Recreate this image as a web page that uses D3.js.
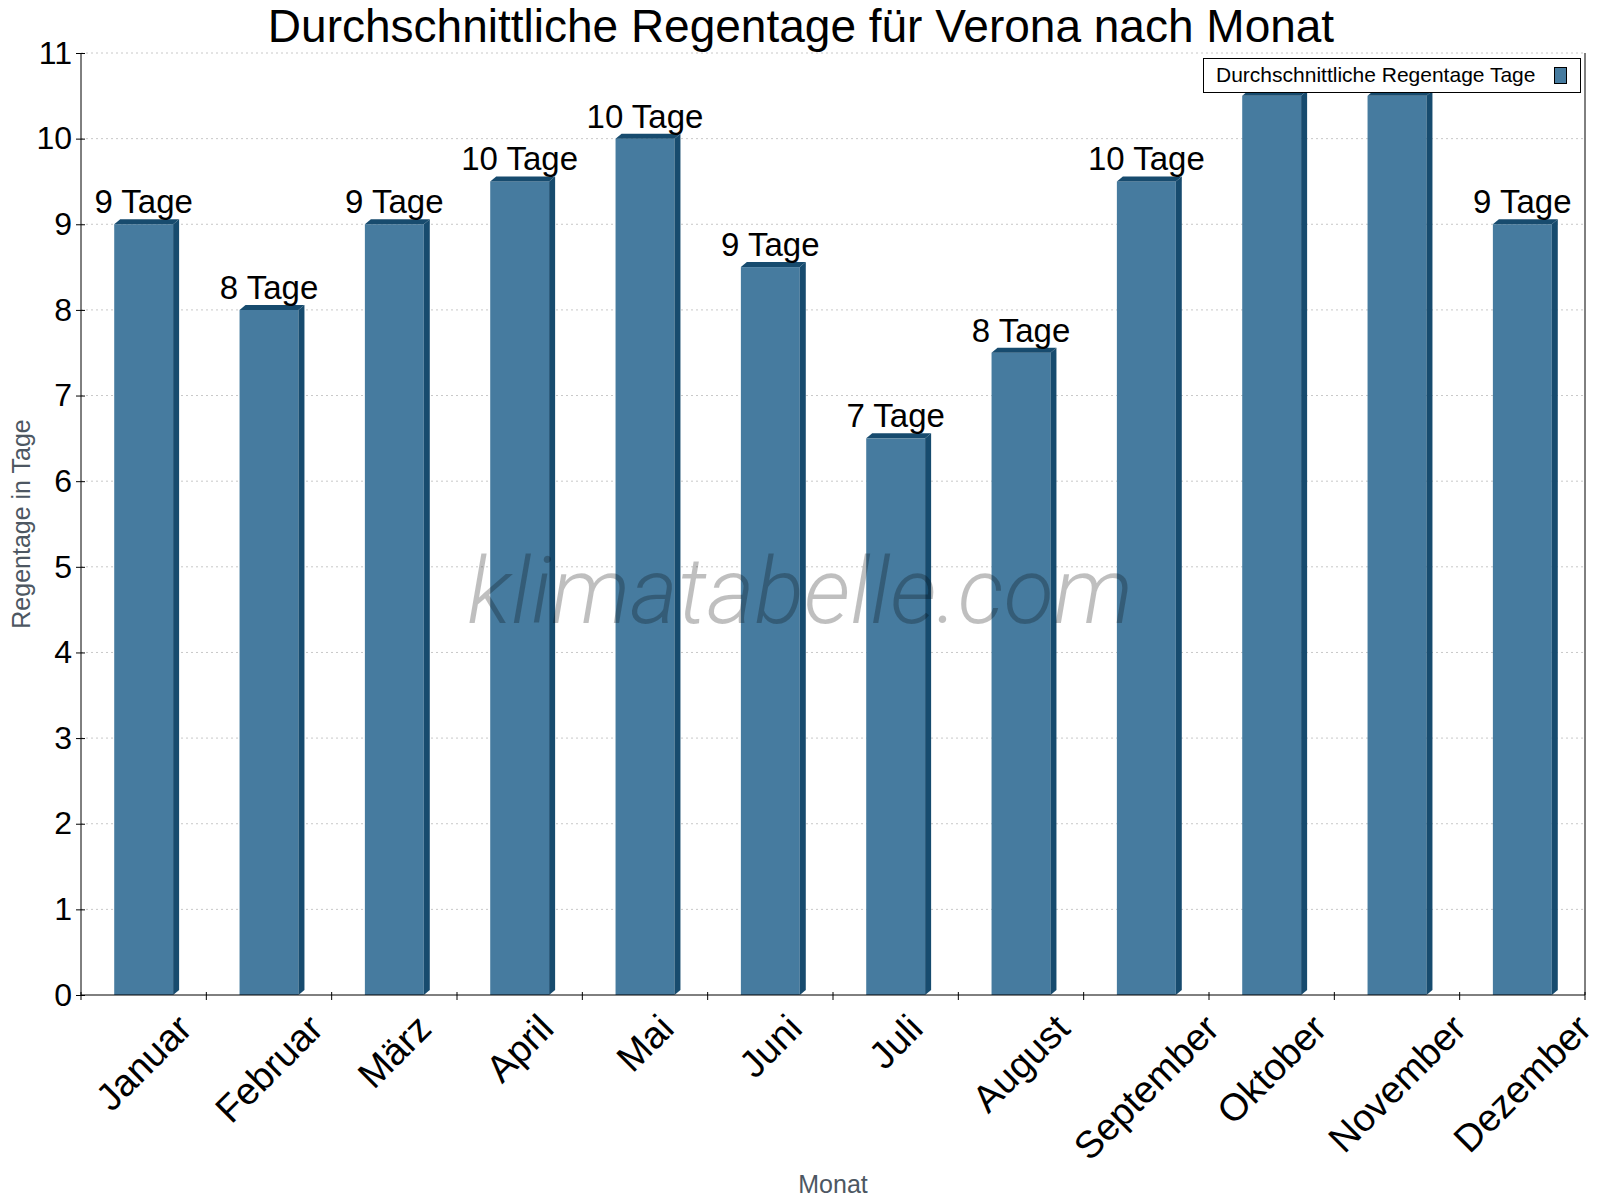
<!DOCTYPE html>
<html>
<head>
<meta charset="utf-8">
<script src="https://cdn.jsdelivr.net/npm/d3@7"></script>
<style>
  body { margin: 0; background: #fff; }
  svg text { font-family: "Liberation Sans", Arial, sans-serif; }
</style>
</head>
<body>
<div class="grp"></div>
<script>
// data
var months = ["Januar", "Februar", "März", "April", "Mai", "Juni", "Juli", "August", "September", "Oktober", "November", "Dezember"]
var rainDays = [9, 8, 9, 9.5, 10, 8.5, 6.5, 7.5, 9.5, 10.5, 10.5, 9]
var yTicks = [0, 1, 2, 3, 4, 5, 6, 7, 8, 9, 10, 11]
var seriesName = "Durchschnittliche Regentage Tage"

var width = 1600, height = 1200
var margin = {top: 53, right: 15, bottom: 205, left: 81}
var depthX = 6, depthY = 5
var front = "#467b9f", dark = "#174b6e"

var svg = d3.select(".grp").append("svg")
    .attr("width", width)
    .attr("height", height)

var x = d3.scaleBand()
    .domain(months)
    .range([margin.left, width - margin.right])
var y = d3.scaleLinear()
    .domain([0, 11])
    .range([height - margin.bottom, margin.top])

// grid
svg.append("g").selectAll("line")
    .data(yTicks.filter(function (d) { return d > 0 }))
    .enter().append("line")
    .attr("x1", margin.left).attr("x2", width - margin.right)
    .attr("y1", function (d) { return y(d) }).attr("y2", function (d) { return y(d) })
    .attr("stroke", "#c8c8c8")
    .attr("stroke-dasharray", "2,3")

// bars
var bw = x.bandwidth() * 0.47
var bars = svg.append("g").selectAll("g")
    .data(rainDays)
    .enter().append("g")
function bx(i) { return x(months[i]) + x.bandwidth() / 2 - bw / 2 }
var y0 = y(0)

bars.append("rect")
    .attr("x", function (d, i) { return bx(i) })
    .attr("y", function (d) { return y(d) })
    .attr("width", bw)
    .attr("height", function (d) { return y0 - y(d) })
    .attr("fill", front)
bars.append("path")
    .attr("fill", dark)
    .attr("d", function (d, i) {
        var x1 = bx(i) + bw, t = y(d)
        return "M" + x1 + "," + t + "L" + (x1 + depthX) + "," + (t - depthY) +
            "L" + (x1 + depthX) + "," + (y0 - depthY) + "L" + x1 + "," + y0 + "Z"
    })
bars.append("path")
    .attr("fill", dark)
    .attr("d", function (d, i) {
        var x0 = bx(i), t = y(d)
        return "M" + x0 + "," + t + "L" + (x0 + depthX) + "," + (t - depthY) +
            "L" + (x0 + bw + depthX) + "," + (t - depthY) + "L" + (x0 + bw) + "," + t + "Z"
    })

// watermark (drawn over the bars, semi transparent)
svg.append("text")
    .attr("x", 800).attr("y", 623)
    .attr("text-anchor", "middle")
    .style("font-family", "Roboto, sans-serif")
    .style("font-weight", 300)
    .style("font-style", "italic")
    .style("font-size", "92px")
    .attr("fill", "#000").attr("fill-opacity", 0.25)
    .text("klimatabelle.com")

// legend box (labels under it are not shown)
var legendBox = {x: 1203.5, y: 58.5, w: 377, h: 34}

// value labels
bars.append("text")
    .attr("x", function (d, i) { return x(months[i]) + x.bandwidth() / 2 })
    .attr("y", function (d) { return y(d) - depthY - 6 })
    .attr("text-anchor", "middle")
    .style("font-size", "33px")
    .attr("fill", "#000")
    .text(function (d) { return Math.round(d) + " Tage" })
    .each(function () {
        var b = this.getBBox()
        var hit = b.x < legendBox.x + legendBox.w && b.x + b.width > legendBox.x &&
            b.y < legendBox.y + legendBox.h && b.y + b.height > legendBox.y
        if (hit) d3.select(this).remove()
    })

// axes
var yAxis = svg.append("g")
    .attr("transform", "translate(" + margin.left + ",0)")
    .call(d3.axisLeft(y).tickValues(yTicks).tickSize(5).tickPadding(4))
yAxis.selectAll("text").style("font-size", "32px").attr("fill", "#000")
yAxis.selectAll("line").attr("x2", -5).attr("x1", 4)
yAxis.select(".domain").attr("d", "M0," + y(11) + "V" + y0)

svg.append("line")
    .attr("x1", width - margin.right).attr("x2", width - margin.right)
    .attr("y1", y(11)).attr("y2", y0)
    .attr("stroke", "#000")

var xAxis = svg.append("g")
    .attr("transform", "translate(0," + y0 + ")")
svg.append("line")
    .attr("x1", margin.left).attr("x2", width - margin.right)
    .attr("y1", y0).attr("y2", y0).attr("stroke", "#000")
xAxis.selectAll("line")
    .data(d3.range(months.length + 1))
    .enter().append("line")
    .attr("x1", function (i) { return margin.left + i * x.step() })
    .attr("x2", function (i) { return margin.left + i * x.step() })
    .attr("y1", -3).attr("y2", 5)
    .attr("stroke", "#000")

xAxis.selectAll("text")
    .data(months)
    .enter().append("text")
    .style("font-size", "38px")
    .attr("text-anchor", "middle")
    .attr("dominant-baseline", "central")
    .attr("fill", "#000")
    .text(function (d) { return d })
    .each(function (d) {
        var w = this.getComputedTextLength()
        var cx = x(d) + x.bandwidth() / 2
        var cy = 16 + (w + 30) * 0.3536
        d3.select(this).attr("transform", "translate(" + cx + "," + cy + ") rotate(-45)")
    })

// axis titles
svg.append("text")
    .attr("x", (margin.left + width - margin.right) / 2).attr("y", 1193)
    .attr("text-anchor", "middle")
    .style("font-size", "25px")
    .attr("fill", "#4d5762")
    .text("Monat")
svg.append("text")
    .attr("transform", "translate(30," + (y(5.5)) + ") rotate(-90)")
    .attr("text-anchor", "middle")
    .style("font-size", "25px")
    .attr("fill", "#4d5762")
    .text("Regentage in Tage")

// title
svg.append("text")
    .attr("x", 801).attr("y", 42)
    .attr("text-anchor", "middle")
    .style("font-size", "46px")
    .attr("fill", "#000")
    .text("Durchschnittliche Regentage für Verona nach Monat")

// legend
var lg = svg.append("g")
lg.append("rect")
    .attr("x", legendBox.x).attr("y", legendBox.y)
    .attr("width", legendBox.w).attr("height", legendBox.h)
    .attr("fill", "#fff").attr("stroke", "#000")
lg.append("text")
    .attr("x", 1216).attr("y", 82)
    .style("font-size", "21px")
    .attr("fill", "#000")
    .text(seriesName)
lg.append("rect")
    .attr("x", 1554.5).attr("y", 67.5)
    .attr("width", 12).attr("height", 16)
    .attr("fill", front).attr("stroke", "#000")
</script>
</body>
</html>
